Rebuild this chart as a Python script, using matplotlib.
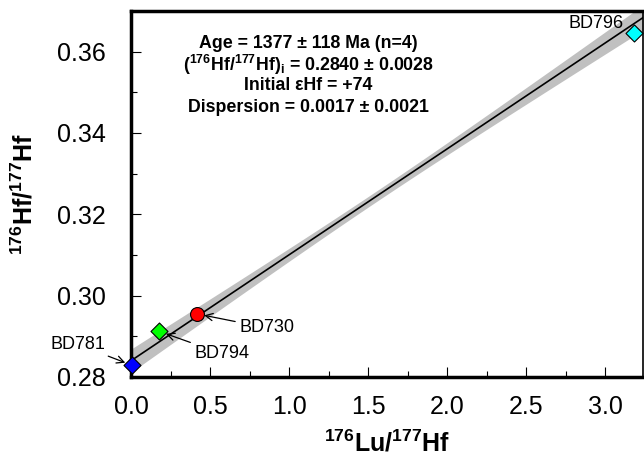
import matplotlib
matplotlib.use("Agg")
import matplotlib.pyplot as plt
import numpy as np

plt.rcParams["font.family"] = ["Liberation Sans", "DejaVu Sans"]
plt.rcParams["mathtext.fontset"] = "custom"
plt.rcParams["mathtext.rm"] = "Liberation Sans:bold"
plt.rcParams["mathtext.default"] = "rm"

# ── data: samples ──
samples = ["BD781", "BD794", "BD730", "BD796"]
lu_hf = [0.005, 0.18, 0.42, 3.18]
hf_hf = [0.2829, 0.2912, 0.2955, 0.3645]
markers = ["D", "D", "o", "D"]
colors = ["#0000ff", "#00ff00", "#ff0000", "#00ffff"]

# isochron fit (intercept, slope) and its error envelope
intercept = 0.2840
slope = 0.02604
env_a, env_b, env_xm = 0.0013, 0.00165, 1.55

xticks = [0.0, 0.5, 1.0, 1.5, 2.0, 2.5, 3.0]
yticks = [0.28, 0.30, 0.32, 0.34, 0.36]

W, H = 644, 457
fig = plt.figure(figsize=(W / 100, H / 100), dpi=100)
ax = fig.add_axes([131 / W, 1 - 377 / H, 512 / W, 366 / H])

xx = np.linspace(-0.1, 3.4, 200)
yy = intercept + slope * xx
hw = np.sqrt(env_a ** 2 + env_b ** 2 * (xx - env_xm) ** 2)
ax.fill_between(xx, yy - hw, yy + hw, color="#c0c0c0", lw=0, zorder=1)
ax.plot(xx, yy, color="black", lw=1.2, zorder=2)

for x, y, m, c in zip(lu_hf, hf_hf, markers, colors):
    ax.scatter(x, y, marker=m, s=100 if m == "o" else 75, color=c,
               edgecolors="black", linewidths=0.8, zorder=5, clip_on=False)

arrow = dict(arrowstyle="->", color="black", lw=0.9, shrinkA=1, shrinkB=5)
ax.annotate(samples[0], (lu_hf[0], hf_hf[0]), xytext=(-39, 15), textcoords="offset points",
            fontsize=13, ha="center", va="center", arrowprops=arrow)
ax.annotate(samples[1], (lu_hf[1], hf_hf[1]), xytext=(45, -16), textcoords="offset points",
            fontsize=13, ha="center", va="center", arrowprops=arrow)
ax.annotate(samples[2], (lu_hf[2], hf_hf[2]), xytext=(50, -10), textcoords="offset points",
            fontsize=13, ha="center", va="center", arrowprops=arrow)
ax.annotate(samples[3], (lu_hf[3], hf_hf[3]), xytext=(-27, 7), textcoords="offset points",
            fontsize=13, ha="center", va="center")

info = ["Age = 1377 ± 118 Ma (n=4)",
        r"($^{176}$Hf/$^{177}$Hf)$_{\rm i}$ = 0.2840 ± 0.0028",
        "Initial εHf = +74",
        "Dispersion = 0.0017 ± 0.0021"]
for i, line in enumerate(info):
    ax.text(308 / W, 1 - (43 + 21.5 * i) / H, line, transform=fig.transFigure,
            fontsize=12.8, fontweight="bold", ha="center", va="center")

ax.set_xlim(0, 3.24)
ax.set_ylim(0.28, 0.3695)
ax.set_xticks(xticks)
ax.set_xticklabels([f"{v:.1f}" for v in xticks])
ax.set_yticks(yticks)
ax.set_yticklabels([f"{v:.2f}" for v in yticks])
ax.set_xticks(np.arange(0.25, 3.24, 0.5), minor=True)
ax.set_yticks(np.arange(0.29, 0.37, 0.02), minor=True)
ax.tick_params(which="both", direction="in", labelsize=18)
ax.tick_params(axis="x", pad=13)
ax.tick_params(axis="y", pad=18)
ax.tick_params(which="major", length=7, width=0.8)
ax.tick_params(which="minor", length=4, width=0.8)
for s in ["left", "bottom", "top"]:
    ax.spines[s].set_linewidth(2.5)
ax.spines["right"].set_linewidth(1.2)

ax.set_xlabel(r"$^{176}$Lu/$^{177}$Hf", fontsize=18, fontweight="bold", labelpad=8)
ax.set_ylabel(r"$^{176}$Hf/$^{177}$Hf", fontsize=18, fontweight="bold", labelpad=14)

fig.savefig("out.png", dpi=100)
